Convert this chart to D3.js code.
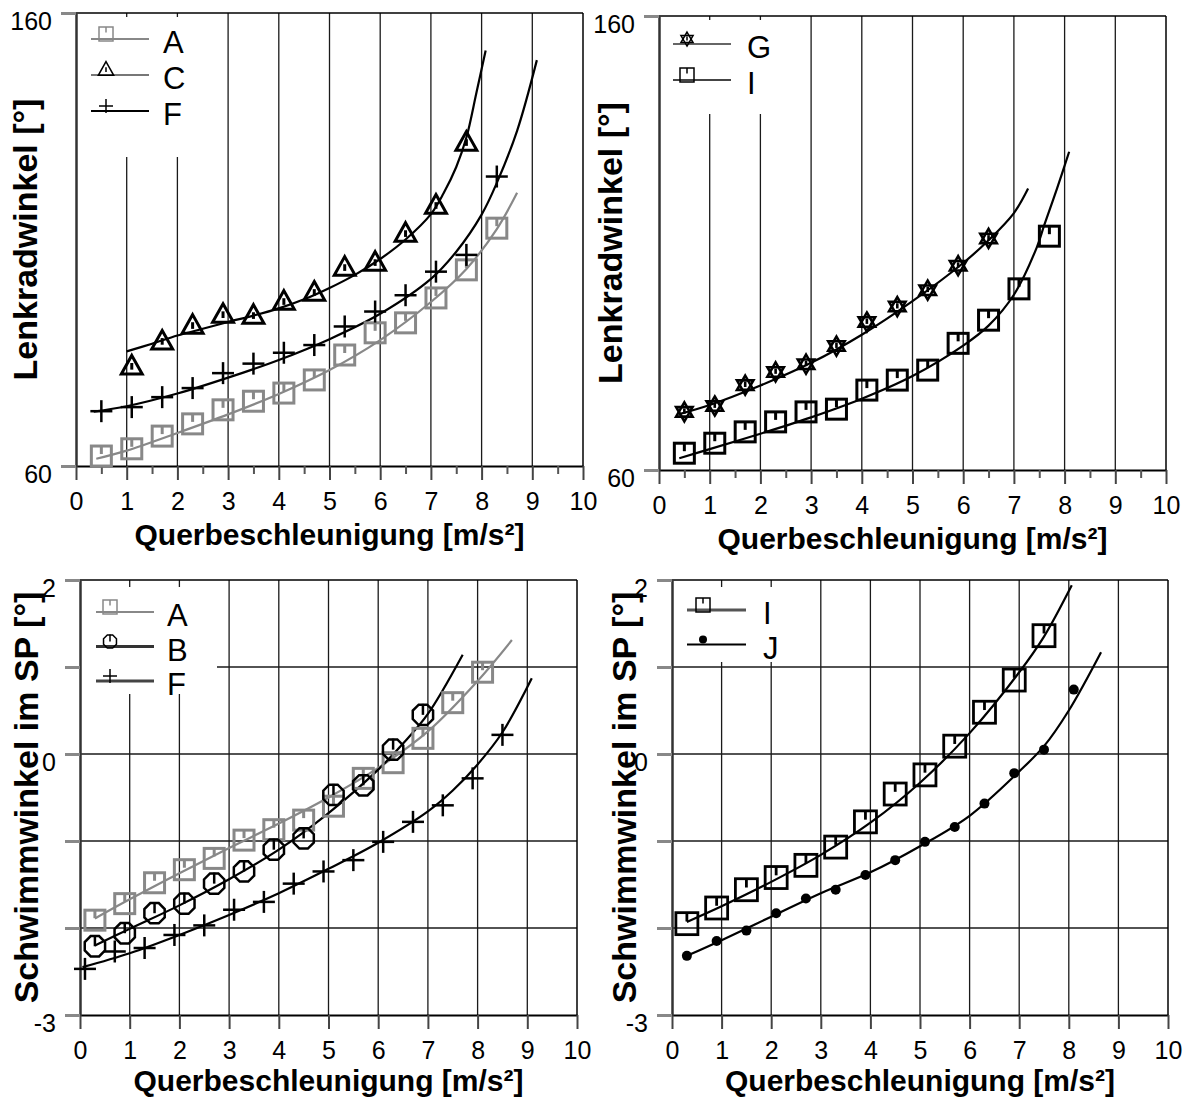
<!DOCTYPE html>
<html>
<head>
<meta charset="utf-8">
<script src="https://cdn.jsdelivr.net/npm/d3@7"></script>
<style>
  body { margin: 0; background: #fff; }
  svg text { font-family: "Liberation Sans", Arial, sans-serif; fill: #000; }
</style>
</head>
<body>
<div id="container"></div>
<script>
/* DATA */
const xTicks = [0, 1, 2, 3, 4, 5, 6, 7, 8, 9, 10]
const xMinorTicks = [0.5, 1.5, 2.5, 3.5, 4.5, 5.5, 6.5, 7.5, 8.5, 9.5]
const lenkTicks = [60, 160]
const slipTickMarks = [-3, -2, -1, 0, 1, 2]
const slipTickLabels = [2, 0, -3]
const slipGrid = [-2, -1, 0, 1]

// Lenkradwinkel, left panel
const lenkA = [[0.5,62.2],[1.1,63.8],[1.7,66.6],[2.3,69.3],[2.9,72.4],[3.5,74.3],[4.1,76.1],[4.7,79.0],[5.3,84.5],[5.9,89.4],[6.5,91.6],[7.1,97.1],[7.7,103.3],[8.3,112.5]]
const lenkA_fit = [[0.4,61.6],[1,63.4],[2,67.3],[3,71.4],[4,75.9],[5,81.2],[6,87.8],[7,96.2],[7.7,103.5],[8.3,112.3],[8.7,120.3]]
const lenkC = [[1.1,81.9],[1.7,87.4],[2.3,90.9],[2.9,93.3],[3.5,93.1],[4.1,96.2],[4.7,98.2],[5.3,103.7],[5.9,104.8],[6.5,111.2],[7.1,117.4],[7.7,131.3]]
const lenkC_fit = [[1.0,85.3],[1.5,87.0],[2,88.8],[2.5,90.3],[3,91.8],[3.5,93.2],[4,94.8],[4.5,96.8],[5,99.3],[5.5,102.2],[6,105.7],[6.5,110],[7,115.6],[7.25,120.2],[7.5,126],[7.7,132.5],[7.9,142.5],[8.08,151.7]]
const lenkF = [[0.5,72.1],[1.1,73.0],[1.7,75.2],[2.3,77.2],[2.9,80.5],[3.5,82.6],[4.1,85.0],[4.7,86.7],[5.3,90.8],[5.9,94.1],[6.5,97.7],[7.1,102.9],[7.7,106.6],[8.3,123.9]]
const lenkF_fit = [[0.35,72.0],[1,73.2],[2,76.0],[3,79.5],[4,83.4],[5,88.0],[6,93.6],[7,101.3],[7.5,107.3],[8,115.5],[8.3,122.5],[8.7,134],[9.09,149.6]]

// Lenkradwinkel, right panel
const lenkG = [[0.5,72.8],[1.1,74.1],[1.7,78.7],[2.3,81.6],[2.9,83.3],[3.5,87.3],[4.1,92.6],[4.7,96.0],[5.3,99.6],[5.9,105.0],[6.5,111.0]]
const lenkG_fit = [[0.4,72.3],[1,74.3],[2,78.6],[3,83.6],[4,89.8],[5,97.2],[6,105.6],[6.5,110.6],[7,116.6],[7.28,122.0]]
const lenkI = [[0.5,63.7],[1.1,65.9],[1.7,68.4],[2.3,70.6],[2.9,72.8],[3.5,73.4],[4.1,77.6],[4.7,79.8],[5.3,82.0],[5.9,87.9],[6.5,93.0],[7.1,99.9],[7.7,111.5]]
const lenkI_fit = [[0.4,62.6],[1,64.6],[2,68.0],[3,71.6],[4,75.7],[5,80.7],[6,87.4],[6.5,91.8],[7,98.6],[7.45,109],[7.6,114],[7.85,122],[8.09,130.1]]

// Schwimmwinkel, left panel
const slipA = [[0.3,-1.91],[0.9,-1.72],[1.5,-1.48],[2.1,-1.33],[2.7,-1.20],[3.3,-0.99],[3.9,-0.87],[4.5,-0.76],[5.1,-0.60],[5.7,-0.28],[6.3,-0.10],[6.9,0.18],[7.5,0.59],[8.1,0.94]]
const slipA_fit = [[0.3,-1.89],[1,-1.67],[2,-1.37],[3,-1.08],[4,-0.80],[5,-0.50],[6,-0.16],[7,0.26],[8,0.84],[8.69,1.31]]
const slipB = [[0.3,-2.21],[0.9,-2.06],[1.5,-1.83],[2.1,-1.72],[2.7,-1.49],[3.3,-1.35],[3.9,-1.10],[4.5,-0.97],[5.1,-0.47],[5.7,-0.36],[6.3,0.05],[6.9,0.45]]
const slipB_fit = [[0.3,-2.2],[1,-2.01],[2,-1.74],[3,-1.44],[4,-1.1],[5,-0.68],[6,-0.18],[6.5,0.12],[7,0.46],[7.7,1.14]]
const slipF = [[0.1,-2.47],[0.7,-2.27],[1.3,-2.23],[1.9,-2.08],[2.5,-1.97],[3.1,-1.79],[3.7,-1.70],[4.3,-1.49],[4.9,-1.35],[5.5,-1.22],[6.1,-1.01],[6.7,-0.78],[7.3,-0.59],[7.9,-0.28],[8.5,0.22]]
const slipF_fit = [[0.05,-2.45],[1,-2.29],[2,-2.08],[3,-1.85],[4,-1.6],[5,-1.32],[6,-1.02],[7,-0.66],[7.5,-0.42],[8,-0.12],[8.5,0.25],[9.09,0.87]]

// Schwimmwinkel, right panel
const slipI = [[0.3,-1.95],[0.9,-1.77],[1.5,-1.56],[2.1,-1.42],[2.7,-1.28],[3.3,-1.07],[3.9,-0.78],[4.5,-0.46],[5.1,-0.24],[5.7,0.09],[6.3,0.48],[6.9,0.85],[7.5,1.36]]
const slipI_fit = [[0.3,-1.93],[1,-1.75],[2,-1.47],[3,-1.16],[4,-0.79],[5,-0.33],[6,0.24],[7,0.94],[7.5,1.35],[8.06,1.94]]
const slipJ = [[0.3,-2.32],[0.9,-2.15],[1.5,-2.03],[2.1,-1.83],[2.7,-1.66],[3.3,-1.56],[3.9,-1.39],[4.5,-1.22],[5.1,-1.01],[5.7,-0.84],[6.3,-0.57],[6.9,-0.22],[7.5,0.05],[8.1,0.74]]
const slipJ_fit = [[0.3,-2.32],[1,-2.14],[2,-1.87],[3,-1.6],[4,-1.36],[5,-1.06],[6,-0.71],[7,-0.2],[7.5,0.09],[8,0.5],[8.65,1.17]]

/* CONSTANTS */
const width = 1193, height = 1098
const GRAY = "#888"
const xTitle = "Querbeschleunigung [m/s²]"

const panels = [
  { left: 76, right: 583, top: 13, bottom: 466, yDomain: [60, 160], kind: "lenk",
    yTitle: "Lenkradwinkel [°]", yTitleX: -39,
    legendBox: [124, 140], legendRow0: 26, legendStep: 36, legendText: 87, legendLine: [15, 73], legendMark: 30,
    series: [
      { name: "A", pts: lenkA, fit: lenkA_fit, type: "square", color: GRAY, size: 20, sw: 3 },
      { name: "C", pts: lenkC, fit: lenkC_fit, type: "triangle", color: "#000", size: 19, sw: 3, legendLine: "#777" },
      { name: "F", pts: lenkF, fit: lenkF_fit, type: "plus", color: "#000", size: 22, sw: 2.5 }
    ] },
  { left: 659, right: 1166, top: 16, bottom: 470, yDomain: [60, 160], kind: "lenk",
    yTitle: "Lenkradwinkel [°]", yTitleX: -37,
    legendBox: [141, 94], legendRow0: 28, legendStep: 36, legendText: 88, legendLine: [14, 72], legendMark: 28,
    series: [
      { name: "G", pts: lenkG, fit: lenkG_fit, type: "star", color: "#000", size: 19, sw: 2.6, legendLine: "#666" },
      { name: "I", pts: lenkI, fit: lenkI_fit, type: "square", color: "#000", size: 20, sw: 3, legendLine: "#444" }
    ] },
  { left: 80, right: 577, top: 580, bottom: 1015, yDomain: [-3, 2], kind: "slip",
    yTitle: "Schwimmwinkel im SP [°]", yTitleX: -42,
    legendBox: [136, 107], legendRow0: 32, legendStep: 34.5, legendText: 87, legendLine: [16, 74], legendMark: 30,
    series: [
      { name: "A", pts: slipA, fit: slipA_fit, type: "square", color: GRAY, size: 20, sw: 3 },
      { name: "B", pts: slipB, fit: slipB_fit, type: "octagon", color: "#000", size: 22, sw: 2.5, legendLine: "#333", legendWidth: 3 },
      { name: "F", pts: slipF, fit: slipF_fit, type: "plus", color: "#000", size: 22, sw: 2.5, legendLine: "#444", legendWidth: 3 }
    ] },
  { left: 672, right: 1168, top: 580, bottom: 1015, yDomain: [-3, 2], kind: "slip",
    yTitle: "Schwimmwinkel im SP [°]", yTitleX: -36,
    legendBox: [117, 75], legendRow0: 30, legendStep: 34.5, legendText: 91, legendLine: [15, 74], legendMark: 31,
    series: [
      { name: "I", pts: slipI, fit: slipI_fit, type: "square", color: "#000", size: 22, sw: 2.8, legendLine: "#555", legendWidth: 3 },
      { name: "J", pts: slipJ, fit: slipJ_fit, type: "dot", color: "#000", size: 10, sw: 1 }
    ] }
]

/* APPEND SVG */
const svg = d3.select("#container")
  .append("svg")
  .attr("width", width)
  .attr("height", height)

// MARKER SHAPES
function drawMarker(g, type, s, color, sw) {
  g.attr("fill", "none").attr("stroke", color).attr("stroke-width", sw)
  const h = s / 2
  if (type === "square") {
    g.append("rect").attr("x", -h).attr("y", -h).attr("width", s).attr("height", s)
    g.append("line").attr("x1", 0).attr("x2", 0).attr("y1", -h).attr("y2", -h + s * 0.4)
  } else if (type === "triangle") {
    g.append("path").attr("d", `M0,${-0.6 * s}L${0.55 * s},${0.38 * s}L${-0.55 * s},${0.38 * s}Z`)
    g.append("line").attr("x1", 0).attr("x2", 0).attr("y1", -0.2 * s).attr("y2", 0.15 * s)
  } else if (type === "plus") {
    g.append("line").attr("x1", -h).attr("x2", h).attr("y1", 0).attr("y2", 0)
    g.append("line").attr("x1", 0).attr("x2", 0).attr("y1", -h).attr("y2", h)
  } else if (type === "octagon") {
    const pts = d3.range(8).map(i => {
      const a = Math.PI / 8 + i * Math.PI / 4
      return [h * Math.cos(a), h * Math.sin(a)]
    })
    g.append("path").attr("d", "M" + pts.join("L") + "Z")
    g.append("line").attr("x1", 0).attr("x2", 0).attr("y1", -h).attr("y2", 0)
  } else if (type === "star") {
    const up = [0, 1, 2].map(i => {
      const a = -Math.PI / 2 + i * 2 * Math.PI / 3
      return [h * Math.cos(a), h * Math.sin(a)]
    })
    const down = up.map(p => [p[0], -p[1]])
    g.append("path").attr("d", "M" + up.join("L") + "Z")
    g.append("path").attr("d", "M" + down.join("L") + "Z")
    g.append("line").attr("x1", 0).attr("x2", 0).attr("y1", -h * 0.35).attr("y2", h * 0.2)
  } else if (type === "dot") {
    g.attr("fill", color).attr("stroke", "none")
    g.append("circle").attr("r", h)
  }
}

// DRAW ONE PANEL
function drawPanel(p) {
  const x = d3.scaleLinear().domain([0, 10]).range([p.left, p.right])
  const y = d3.scaleLinear().domain(p.yDomain).range([p.bottom, p.top])
  const g = svg.append("g")

  // GRID
  g.selectAll("line.vgrid")
    .data(xTicks.slice(1, -1))
    .join("line")
    .attr("class", "vgrid")
    .attr("x1", d => x(d)).attr("x2", d => x(d))
    .attr("y1", p.top).attr("y2", p.bottom)
    .attr("stroke", "#1a1a1a").attr("stroke-width", 1.3)

  if (p.kind === "slip") {
    g.selectAll("line.hgrid")
      .data(slipGrid)
      .join("line")
      .attr("class", "hgrid")
      .attr("x1", p.left).attr("x2", p.right)
      .attr("y1", d => y(d)).attr("y2", d => y(d))
      .attr("stroke", "#1a1a1a").attr("stroke-width", 1.3)
  }

  // LEGEND BOX (hides the grid behind it)
  g.append("rect")
    .attr("x", p.left + 1).attr("y", p.top + (p.kind === "lenk" ? 4 : 7))
    .attr("width", p.legendBox[0]).attr("height", p.legendBox[1])
    .attr("fill", "#fff")

  // BORDERS
  g.append("line")
    .attr("x1", p.left).attr("x2", p.right).attr("y1", p.top).attr("y2", p.top)
    .attr("stroke", "#000").attr("stroke-width", 1.5)
  g.append("line")
    .attr("x1", p.right).attr("x2", p.right).attr("y1", p.top).attr("y2", p.bottom)
    .attr("stroke", "#000").attr("stroke-width", 1.5)

  // X AXIS
  const xAxis = g.append("g")
    .attr("transform", `translate(0,${p.bottom})`)
    .call(d3.axisBottom(x).tickValues(xTicks).tickSize(14).tickSizeOuter(0).tickFormat(d3.format("d")))
  xAxis.select(".domain").attr("stroke", "#000").attr("stroke-width", 2)
  xAxis.selectAll(".tick line").attr("stroke", "#444").attr("stroke-width", 2)
  xAxis.selectAll(".tick text")
    .attr("y", 44).attr("dy", null)
    .style("font-size", "25px")

  if (p.kind === "lenk") {
    const minor = g.append("g")
      .attr("transform", `translate(0,${p.bottom})`)
      .call(d3.axisBottom(x).tickValues(xMinorTicks).tickSize(8).tickFormat(""))
    minor.select(".domain").remove()
    minor.selectAll(".tick line").attr("stroke", "#555").attr("stroke-width", 2)
  }

  // Y AXIS
  const yTickVals = p.kind === "lenk" ? lenkTicks : slipTickMarks
  const yLabels = p.kind === "lenk" ? lenkTicks : slipTickLabels
  const yAxis = g.append("g")
    .attr("transform", `translate(${p.left},0)`)
    .call(d3.axisLeft(y).tickValues(yTickVals).tickSize(15).tickSizeOuter(0).tickPadding(9)
      .tickFormat(d => yLabels.includes(d) ? d : ""))
  yAxis.select(".domain").attr("stroke", "#333").attr("stroke-width", 2.5)
  yAxis.selectAll(".tick line").attr("stroke", "#888").attr("stroke-width", 3)
  yAxis.selectAll(".tick text")
    .attr("dy", "0.64em")
    .style("font-size", "25px")

  // FITTED CURVES
  const line = d3.line()
    .x(d => x(d[0]))
    .y(d => y(d[1]))
    .curve(d3.curveCatmullRom.alpha(0.5))

  p.series.forEach(s => {
    g.append("path")
      .datum(s.fit)
      .attr("d", line)
      .attr("fill", "none")
      .attr("stroke", s.color)
      .attr("stroke-width", 2.2)
  })

  // MARKERS
  p.series.forEach(s => {
    g.selectAll(null)
      .data(s.pts)
      .join("g")
      .attr("transform", d => `translate(${x(d[0])},${y(d[1])})`)
      .each(function () { drawMarker(d3.select(this), s.type, s.size, s.color, s.sw) })
  })

  // LEGEND
  p.series.forEach((s, i) => {
    const ly = p.top + p.legendRow0 + i * p.legendStep
    g.append("line")
      .attr("x1", p.left + p.legendLine[0]).attr("x2", p.left + p.legendLine[1])
      .attr("y1", ly).attr("y2", ly)
      .attr("stroke", s.legendLine || s.color)
      .attr("stroke-width", s.legendWidth || 2)
    const m = g.append("g").attr("transform", `translate(${p.left + p.legendMark},${ly - 5})`)
    drawMarker(m, s.type, s.type === "dot" ? 8 : 14, s.color, 1.5)
    g.append("text")
      .attr("x", p.left + p.legendText).attr("y", ly + 14)
      .style("font-size", "31px")
      .text(s.name)
  })

  // AXIS TITLES
  g.append("text")
    .attr("x", (p.left + p.right) / 2)
    .attr("y", p.bottom + (p.kind === "lenk" ? 79 : 76))
    .attr("text-anchor", "middle")
    .style("font-size", "30px").style("font-weight", "bold")
    .text(xTitle)

  g.append("text")
    .attr("transform", `translate(${p.left + p.yTitleX},${(p.top + p.bottom) / 2}) rotate(-90)`)
    .attr("text-anchor", "middle")
    .style("font-size", "34px").style("font-weight", "bold")
    .text(p.yTitle)
}

panels.forEach(drawPanel)
</script>
</body>
</html>
